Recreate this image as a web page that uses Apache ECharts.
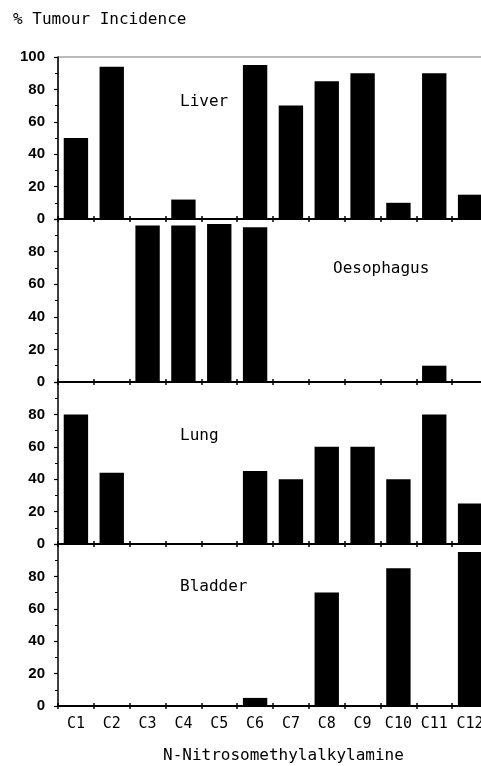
<!DOCTYPE html>
<html>
<head>
<meta charset="utf-8">
<script src="https://cdn.jsdelivr.net/npm/echarts@6/dist/echarts.min.js"></script>
<style>
html,body{margin:0;padding:0;background:#fff;}
#chart{width:481px;height:766px;}
</style>
</head>
<body>
<div id="chart"></div>
<script>
// ---- data ----
const categories = ['C1','C2','C3','C4','C5','C6','C7','C8','C9','C10','C11','C12'];
const liver      = [50, 94, 0, 12, 0, 95, 70, 85, 90, 10, 90, 15];
const oesophagus = [0, 0, 96, 96, 97, 95, 0, 0, 0, 0, 10, 0];
const lung       = [80, 44, 0, 0, 0, 45, 40, 60, 60, 40, 80, 25];
const bladder    = [0, 0, 0, 0, 0, 5, 0, 70, 0, 85, 0, 95];
const panelNames = ['Liver', 'Oesophagus', 'Lung', 'Bladder'];
const yMin = 0, yMax = 100, yStep = 20;
const yAxisTitle = '% Tumour Incidence';
const xAxisTitle = 'N-Nitrosomethylalkylamine';

// ---- layout ----
const panelSeries = [liver, oesophagus, lung, bladder];
const gridTops = [57, 219, 382, 544];
const gridHeights = [162, 163, 162, 162];
const gridLeft = 58, gridWidth = 430;
const labelPos = [[180, 103], [333, 270], [180, 437], [180, 588]];
const mono = 'DejaVu Sans Mono';

const grids = [], xAxes = [], yAxes = [], series = [], graphics = [];
panelSeries.forEach((vals, i) => {
  const last = i === panelSeries.length - 1;
  grids.push({
    left: gridLeft, top: gridTops[i], width: gridWidth, height: gridHeights[i],
    outerBoundsMode: 'none', containLabel: false,
    show: i === 0, borderColor: '#777', borderWidth: 1, backgroundColor: 'transparent'
  });
  // main category axis: outside ticks, labels only on last panel
  xAxes.push({
    type: 'category', gridIndex: i, data: categories, boundaryGap: true,
    axisLine: {show: true, lineStyle: {color: '#000', width: 2}},
    axisTick: {show: true, inside: false, length: 3, lineStyle: {color: '#000', width: 1.5}},
    axisLabel: {show: last, interval: 0, margin: 11, color: '#000', fontFamily: mono, fontSize: 15,
                hideOverlap: false},
    splitLine: {show: false}, z: 5
  });
  // overlay axis to draw the inside half of the crossing ticks
  xAxes.push({
    type: 'category', gridIndex: i, data: categories, boundaryGap: true, position: 'bottom',
    axisLine: {show: false},
    axisTick: {show: true, inside: true, length: 3, lineStyle: {color: '#000', width: 1.5}},
    axisLabel: {show: false}, splitLine: {show: false}, z: 5
  });
  yAxes.push({
    type: 'value', gridIndex: i, min: yMin, max: yMax, interval: yStep,
    axisLine: {show: true, lineStyle: {color: '#000', width: 1.5}},
    axisTick: {show: true, inside: false, length: 4, lineStyle: {color: '#000', width: 1.2}},
    minorTick: {show: true, splitNumber: 2, length: 3, lineStyle: {color: '#000', width: 1}},
    axisLabel: {
      margin: 13, color: '#000', fontFamily: 'Liberation Sans', fontSize: 15, fontWeight: 'bold',
      formatter: v => (i > 0 && v === yMax) ? '' : String(v)
    },
    splitLine: {show: false}
  });
  series.push({
    type: 'bar', xAxisIndex: i * 2, yAxisIndex: i, data: vals,
    barWidth: '68%', itemStyle: {color: '#000'}, silent: true, animation: false
  });
  graphics.push({
    type: 'text', left: labelPos[i][0], top: labelPos[i][1] - 9,
    style: {text: panelNames[i], fill: '#000', font: '16px "' + mono + '"'}
  });
});

graphics.push({
  type: 'text', left: 13, top: 12,
  style: {text: yAxisTitle, fill: '#000', font: '16px "' + mono + '"'}
});
graphics.push({
  type: 'text', left: 163, top: 748,
  style: {text: xAxisTitle, fill: '#000', font: '16px "' + mono + '"'}
});

const chart = echarts.init(document.getElementById('chart'), null, {renderer: 'canvas'});
chart.setOption({
  animation: false,
  backgroundColor: '#fff',
  grid: grids, xAxis: xAxes, yAxis: yAxes, series: series, graphic: graphics
});
</script>
</body>
</html>
